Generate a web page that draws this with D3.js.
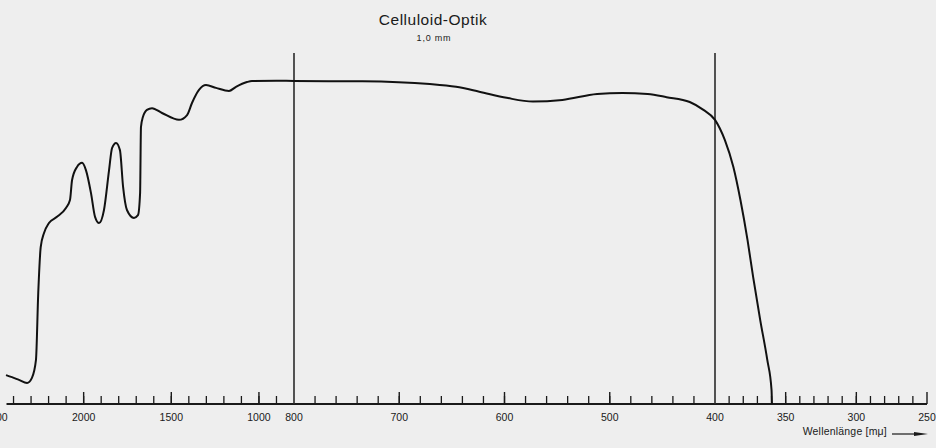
<!DOCTYPE html>
<html>
<head>
<meta charset="utf-8">
<script src="https://cdn.jsdelivr.net/npm/d3@7"></script>
<style>
  html, body { margin: 0; padding: 0; background: #eeeeee; }
  svg { display: block; }
  text { font-family: "Liberation Sans", Arial, sans-serif; fill: #1a1a1a; }
</style>
</head>
<body>
<svg id="chart" width="936" height="448"></svg>
<script>
// ---- data ----
const title = "Celluloid-Optik";
const subtitle = "1,0 mm";
const xAxisLabel = "Wellenlänge [mμ]";

// wavelength (mμ)
const wavelength = [2443, 2409, 2369, 2323, 2295, 2272, 2259, 2245, 2226, 2198, 2152, 2101, 2078, 2066, 2038, 2009,
  1987, 1958, 1935, 1912, 1884, 1855, 1838, 1815, 1793, 1775, 1753, 1713, 1690, 1678, 1673, 1662, 1639, 1610,
  1553, 1456, 1410, 1382, 1342, 1302, 1245, 1171, 1131, 1068, 1040, 900, 800, 735, 671, 646, 624, 598, 573,
  545, 512, 488, 464, 446, 424, 411, 400, 393, 387, 382, 377, 373, 368, 363, 360, 359.7];
// transmission (%)
const transmission = [8.4, 7.8, 7.0, 6.1, 7.6, 12.8, 32.3, 45.6, 49.7, 52.6, 54.4, 57.0, 59.3, 65.1, 68.9, 70.1,
  68.0, 61.3, 54.4, 52.6, 56.4, 68.0, 74.4, 75.9, 73.8, 63.1, 56.4, 54.1, 54.9, 61.3, 80.5, 83.4, 85.5, 86.0,
  84.6, 82.6, 84.0, 87.5, 91.3, 92.7, 91.9, 91.0, 92.2, 93.6, 93.9, 94.0, 93.9, 93.8, 93.0, 92.2, 90.8, 89.0, 87.9,
  88.4, 90.1, 90.4, 90.1, 89.2, 87.8, 85.5, 82.6, 76.7, 68.9, 59.3, 47.7, 36.9, 24.4, 12.8, 4.1, 0];

// axis breakpoints (piecewise-linear wavelength scale)
const scaleBreaks = [2500, 800, 400, 250];
const tickLabels = [2500, 2000, 1500, 1000, 800, 700, 600, 500, 400, 350, 300, 250];
const majorTicks = [2000, 1500, 1000, 700, 600, 500, 350, 300, 250];
const minorTicks = [].concat(
  d3.range(2400, 800, -100),
  d3.range(780, 400, -20),
  d3.range(390, 250, -10)
);
const markerLines = [800, 400];

// ---- drawing ----
const svg = d3.select("#chart");
const axisY = 404;

const x = d3.scaleLinear().domain(scaleBreaks).range([-4, 294, 715, 927]);
const y = d3.scaleLinear().domain([0, 100]).range([axisY, 60]);

// title
svg.append("text").attr("x", 433).attr("y", 25).attr("text-anchor", "middle")
  .style("font-size", "15.5px").style("letter-spacing", "0.5px").text(title);
svg.append("text").attr("x", 434).attr("y", 41).attr("text-anchor", "middle")
  .style("font-size", "9px").style("letter-spacing", "0.8px").text(subtitle);

// axis line
svg.append("line").attr("x1", x(2440)).attr("x2", x(250))
  .attr("y1", axisY).attr("y2", axisY)
  .attr("stroke", "#1a1a1a").attr("stroke-width", 1.8);

// minor ticks
svg.selectAll("line.minor").data(minorTicks).join("line")
  .attr("class", "minor")
  .attr("x1", d => x(d)).attr("x2", d => x(d))
  .attr("y1", axisY).attr("y2", axisY - 8)
  .attr("stroke", "#1a1a1a").attr("stroke-width", 1.3);

// major ticks
svg.selectAll("line.major").data(majorTicks).join("line")
  .attr("class", "major")
  .attr("x1", d => x(d)).attr("x2", d => x(d))
  .attr("y1", axisY).attr("y2", axisY - 12)
  .attr("stroke", "#1a1a1a").attr("stroke-width", 1.4);

// vertical marker lines
svg.selectAll("line.marker").data(markerLines).join("line")
  .attr("class", "marker")
  .attr("x1", d => x(d)).attr("x2", d => x(d))
  .attr("y1", axisY).attr("y2", 53)
  .attr("stroke", "#2a2a2a").attr("stroke-width", 1.6);

// tick labels
svg.selectAll("text.tl").data(tickLabels).join("text")
  .attr("class", "tl")
  .attr("x", d => x(d)).attr("y", 421)
  .attr("text-anchor", "middle")
  .style("font-size", "10.5px")
  .text(d => d);

// x-axis title with arrow
svg.append("text").attr("x", 887).attr("y", 435).attr("text-anchor", "end")
  .style("font-size", "10.5px").style("letter-spacing", "0.2px").text(xAxisLabel);
svg.append("line").attr("x1", 892).attr("x2", 918).attr("y1", 434).attr("y2", 434)
  .attr("stroke", "#1a1a1a").attr("stroke-width", 1.2);
svg.append("path").attr("d", "M914,432 L928,434 L914,436 Z").attr("fill", "#1a1a1a");

// curve
const pts = wavelength.map((w, i) => [w, transmission[i]]);
const line = d3.line().x(d => x(d[0])).y(d => y(d[1])).curve(d3.curveMonotoneX);
svg.append("path").datum(pts).attr("d", line)
  .attr("fill", "none").attr("stroke", "#111").attr("stroke-width", 2)
  .attr("stroke-linejoin", "round");
</script>
</body>
</html>
